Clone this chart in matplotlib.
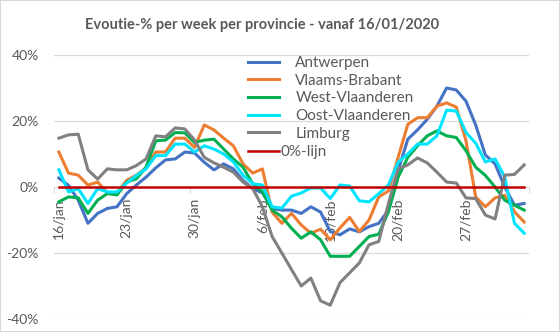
import numpy as np
import matplotlib.pyplot as plt
from matplotlib.patches import Rectangle

plt.rcParams['font.family'] = ['Lato', 'DejaVu Sans']

# daily values 16/01/2020 .. 04/03/2020 (weekly evolution in %)
antwerpen = [2.7, 0.5, -4, -11, -8, -6.5, -6, -2, 0.6, 3, 5.8, 8.2, 8.5, 10.6, 10.3, 7.5,
             5.2, 7, 5.5, 2, -0.5, -1.8, -6.5, -7, -7, -8, -6, -7.6, -13.5, -14.5, -12.7,
             -13.6, -12, -11, -7, 5, 14.5, 17.3, 20.5, 24.5, 30, 29.4, 26, 18.8, 9.7, 7,
             0, -5.5, -5]
vlaams_brabant = [10.6, 4.2, 3.6, 0.6, 1.5, -1.8, -1.8, 2, 3.6, 5.8, 10.6, 10.6, 14.8, 14.8,
                  12, 18.8, 17.3, 14.8, 12.5, 7, 4.2, 5.5, -7.6, -11, -8, -11.5, -14, -12.8,
                  -16, -12.4, -9.2, -13.5, -10, -3, -1.2, 9, 19, 21, 21, 24.5, 25.5, 24.2,
                  14, -3, -6, -3.3, -2.5, -7.5, -10.6]
west_vlaanderen = [-4.5, -3, -3.3, -8, -4, -2, -2.4, 1.5, 2.5, 6, 14, 14.2, 16.5, 16.4, 13.5,
                   14.2, 14.5, 11.5, 8.5, 6, 1, -1.5, -7, -9, -12.5, -15.5, -13.6, -16, -21,
                   -21, -21, -18, -15, -14.3, -7.5, 3, 9, 12.5, 15.5, 17, 15.5, 15, 11, 6,
                   3.5, 0, -4, -5.5, -7]
oost_vlaanderen = [5.2, -1.5, -0.5, -5, -0.5, -1.5, -1.5, 1.2, 3.5, 5.5, 9.5, 9.5, 13, 13,
                   10.6, 12.5, 11.5, 10, 7.6, 3.6, 1, 0.6, -6, -6.4, -2.8, -1.8, -0.3, -0.3,
                   -3.5, 0.6, 0.3, -4.2, -4.5, -2, 0.6, 7.5, 10, 13, 13, 15.5, 23.3, 23, 16.5,
                   13.3, 7.6, 8.5, 3, -11, -14]
limburg = [14.8, 15.8, 16, 5.2, 2.4, 5.5, 5.2, 5.2, 6.5, 8.5, 15.5, 15.2, 17.9, 17.6, 14.2,
           9, 7.3, 6, 4.5, 1.5, -0.5, -6, -15, -20, -25, -30, -27.6, -34.5, -35.8, -29, -26,
           -23, -17.5, -16.5, -5, 5.5, 6.7, 8.8, 7.3, 4.5, 1.5, 1.2, -3.3, -3.5, -8.5, -9.7,
           3.6, 3.8, 6.7]
nul_lijn = [0] * 49

series = ['Antwerpen', 'Vlaams-Brabant', 'West-Vlaanderen', 'Oost-Vlaanderen', 'Limburg']
colors = ['#4472C4', '#ED7D31', '#00B050', '#00E5FF', '#808080']
tick_labels = ['16/jan', '23/jan', '30/jan', '6/feb', '13/feb', '20/feb', '27/feb']

txt = '#595959'
fig = plt.figure(figsize=(5.6, 3.32), dpi=100)
ax = fig.add_axes([54 / 560, 13 / 332, 475 / 560, 264 / 332])

x = np.arange(len(antwerpen))
handles = []
for vals, name, c in zip([antwerpen, vlaams_brabant, west_vlaanderen, oost_vlaanderen, limburg],
                         series, colors):
    h, = ax.plot(x, vals, color=c, lw=2.2, label=name, solid_joinstyle='round')
    handles.append(h)
red, = ax.plot(x, nul_lijn, color='#C00000', lw=1.8, label='0%-lijn', zorder=3)

ax.set_xlim(-0.5, len(x) - 0.5)
ax.set_ylim(-40, 40)
ax.set_yticks([-40, -20, 0, 20, 40])
ax.set_yticklabels(['-40%', '-20%', '0%', '20%', '40%'])
for v in [-40, -20, 20, 40]:
    ax.axhline(v, color='#D9D9D9', lw=0.9, zorder=0)

for s in ['top', 'right', 'left']:
    ax.spines[s].set_visible(False)
ax.spines['bottom'].set_position(('data', 0))
ax.spines['bottom'].set_color('#D9D9D9')
ax.spines['bottom'].set_zorder(1)

ax.set_xticks(np.arange(0, len(x), 7)[:len(tick_labels)])
ax.set_xticklabels(tick_labels, rotation=90)
ax.set_xticks(np.arange(-0.5, len(x), 7), minor=True)
ax.tick_params(axis='x', which='major', length=0, pad=8, labelsize=10, labelcolor=txt)
ax.tick_params(axis='x', which='minor', length=4, color='#D9D9D9', width=0.8)
ax.tick_params(axis='y', length=0, pad=11, labelsize=10, labelcolor=txt)

leg1 = ax.legend(handles=handles, loc='upper left', bbox_to_anchor=(248 / 560, 1 - 56 / 332),
                 bbox_transform=fig.transFigure, frameon=False, fontsize=11,
                 handlelength=2.0, handletextpad=1.1, labelspacing=0.24, borderpad=0,
                 borderaxespad=0)
for t in leg1.get_texts():
    t.set_color(txt)
ax.add_artist(leg1)
leg2 = ax.legend(handles=[red], loc='upper left', bbox_to_anchor=(248 / 560, 1 - 145 / 332),
                 bbox_transform=fig.transFigure, frameon=False, fontsize=11,
                 handlelength=2.0, handletextpad=0.15, borderpad=0, borderaxespad=0)
for t in leg2.get_texts():
    t.set_color(txt)

fig.text(262 / 560, 1 - 25 / 332, 'Evoutie-% per week per provincie - vanaf 16/01/2020',
         ha='center', va='center', fontsize=10.5, fontweight='bold', color=txt)

fig.patches.append(Rectangle((0, 0), 1, 1, transform=fig.transFigure, fill=False,
                             edgecolor='#D9D9D9', lw=1.5))

fig.savefig('out.png', dpi=100)
